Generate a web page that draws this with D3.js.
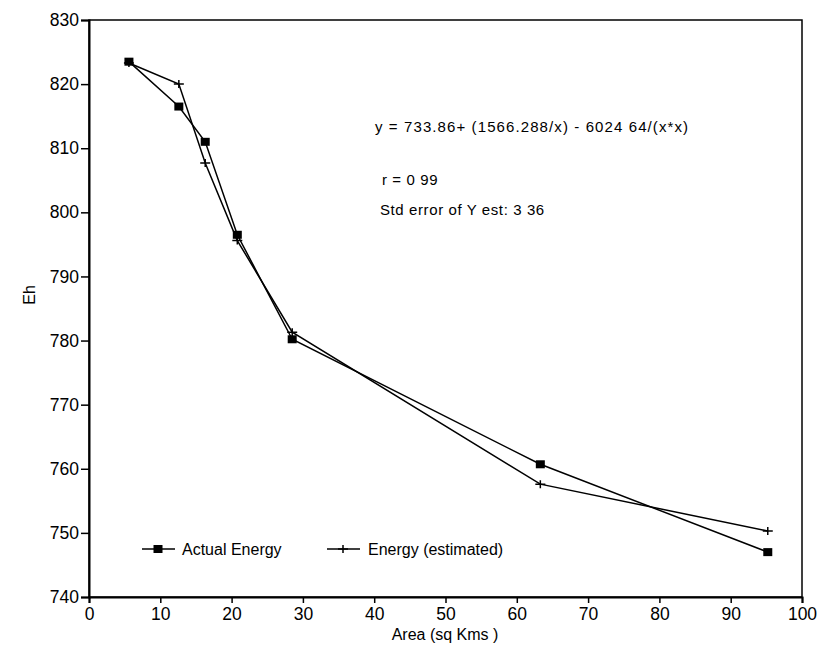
<!DOCTYPE html>
<html lang="en">
<head>
<meta charset="utf-8">
<title>Eh vs Area</title>
<script src="https://cdn.jsdelivr.net/npm/d3@7/dist/d3.min.js"></script>
<style>
  body { margin: 0; background: #fff; }
  text { font-family: "Liberation Sans", Arial, sans-serif; fill: #000; }
</style>
</head>
<body>
<script>
// data
var area      = [5.6, 12.6, 16.3, 20.8, 28.5, 63.3, 95.2];
var actual    = [823.5, 816.5, 811.0, 796.5, 780.2, 760.7, 747.0];
var estimated = [823.3, 820.0, 807.7, 795.6, 781.3, 757.6, 750.3];
var xTicks = [0, 10, 20, 30, 40, 50, 60, 70, 80, 90, 100];
var yTicks = [740, 750, 760, 770, 780, 790, 800, 810, 820, 830];
var notes = ["y = 733.86+ (1566.288/x) - 6024 64/(x*x)", "r = 0 99", "Std error of Y est: 3 36"];

var w = 822, h = 651;
var margin = {top: 20, left: 89, right: 20, bottom: 54};

var svg = d3.select("body").append("svg")
    .attr("width", w)
    .attr("height", h);

var x = d3.scaleLinear().domain([0, 100]).range([margin.left, w - margin.right]);
var y = d3.scaleLinear().domain([740, 830]).range([h - margin.bottom, margin.top]);

// frame
svg.append("rect")
    .attr("x", x(0)).attr("y", y(830))
    .attr("width", x(100) - x(0)).attr("height", y(740) - y(830))
    .attr("fill", "none").attr("stroke", "#000").attr("stroke-width", 1.5);

var xAxis = svg.append("g")
    .attr("transform", "translate(0," + y(740) + ")")
    .call(d3.axisBottom(x).tickValues(xTicks).tickSize(6).tickPadding(5));
var yAxis = svg.append("g")
    .attr("transform", "translate(" + x(0) + ",0)")
    .call(d3.axisLeft(y).tickValues(yTicks).tickSize(8).tickPadding(2));

[xAxis, yAxis].forEach(function(g) {
  g.select(".domain").attr("stroke-width", 2);
  g.selectAll(".tick line").attr("stroke-width", 1.5);
  g.selectAll("text").style("font-size", "17.5px").attr("fill", "#000");
  g.attr("font-family", null);
});

// axis titles
svg.append("text")
    .attr("x", 445).attr("y", 640)
    .attr("text-anchor", "middle")
    .style("font-size", "16px")
    .text("Area (sq Kms )");
svg.append("text")
    .attr("transform", "translate(35,295) rotate(-90)")
    .attr("text-anchor", "middle")
    .style("font-size", "16px")
    .text("Eh");

// lines
var pts1 = area.map(function(d, i) { return [d, actual[i]]; });
var pts2 = area.map(function(d, i) { return [d, estimated[i]]; });
var line = d3.line().x(function(d) { return x(d[0]); }).y(function(d) { return y(d[1]); });

svg.append("path").datum(pts2).attr("d", line)
    .attr("fill", "none").attr("stroke", "#000").attr("stroke-width", 1.5);
svg.append("path").datum(pts1).attr("d", line)
    .attr("fill", "none").attr("stroke", "#000").attr("stroke-width", 1.5);

function cross(g, cx, cy) {
  g.append("path")
      .attr("d", "M" + (cx - 5) + "," + cy + "H" + (cx + 5) + "M" + cx + "," + (cy - 4) + "V" + (cy + 4))
      .attr("stroke", "#000").attr("stroke-width", 1.5);
}
function square(g, cx, cy) {
  g.append("rect")
      .attr("x", cx - 4.5).attr("y", cy - 4).attr("width", 9).attr("height", 8)
      .attr("fill", "#000");
}

var marks = svg.append("g");
pts2.forEach(function(d) { cross(marks, x(d[0]), y(d[1])); });
pts1.forEach(function(d) { square(marks, x(d[0]), y(d[1])); });

// annotations
svg.append("text").attr("x", 375).attr("y", 132)
    .style("font-size", "15px").style("letter-spacing", "1.1px").text(notes[0]);
svg.append("text").attr("x", 382).attr("y", 185)
    .style("font-size", "15px").style("letter-spacing", "0.6px").text(notes[1]);
svg.append("text").attr("x", 380).attr("y", 215)
    .style("font-size", "15px").style("letter-spacing", "0.6px").text(notes[2]);

// legend
var legend = svg.append("g");
var ly = 549;
legend.append("line").attr("x1", 142).attr("x2", 175).attr("y1", ly).attr("y2", ly)
    .attr("stroke", "#000").attr("stroke-width", 1.5);
square(legend, 158, ly);
legend.append("text").attr("x", 182).attr("y", ly + 6).style("font-size", "16px").text("Actual Energy");

legend.append("line").attr("x1", 327).attr("x2", 360).attr("y1", ly).attr("y2", ly)
    .attr("stroke", "#000").attr("stroke-width", 1.5);
cross(legend, 343, ly);
legend.append("text").attr("x", 368).attr("y", ly + 6).style("font-size", "16px").text("Energy (estimated)");
</script>
</body>
</html>
